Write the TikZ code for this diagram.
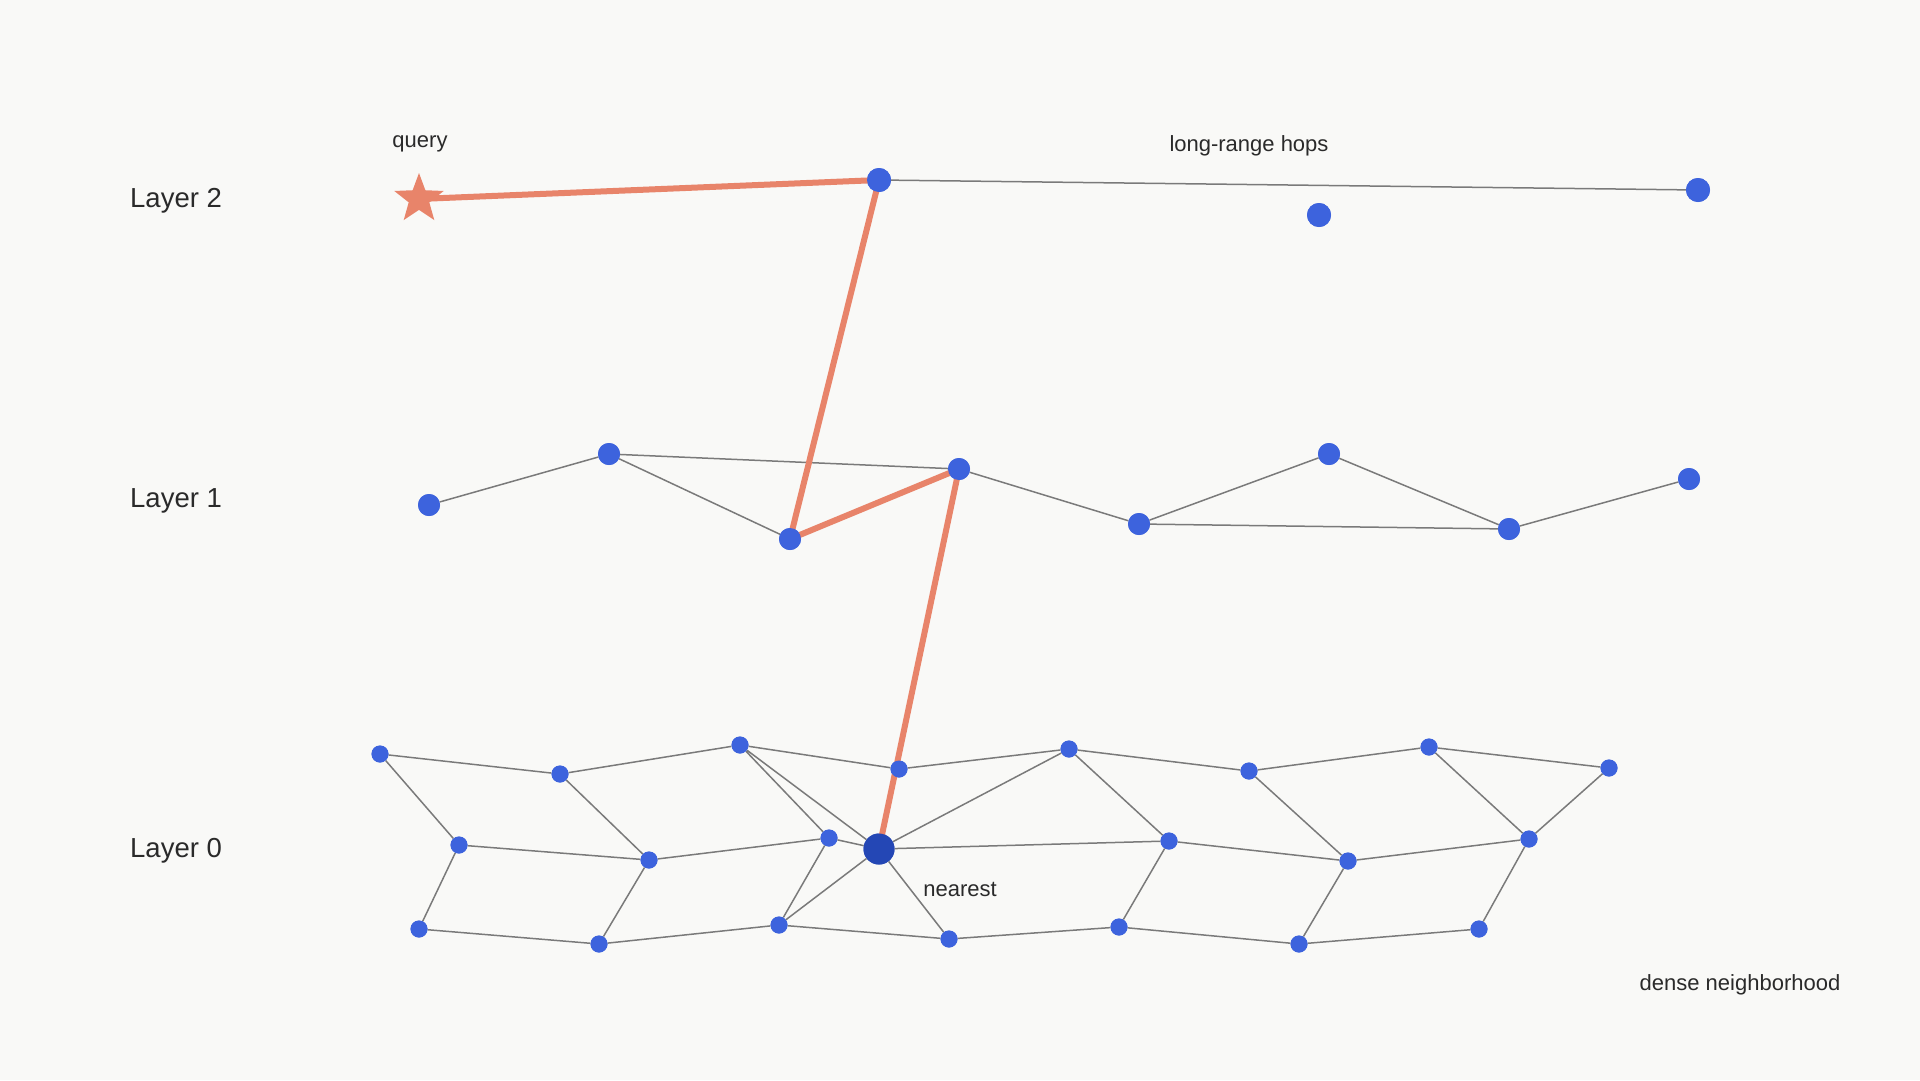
\documentclass[tikz,border=0pt]{standalone}
\usepackage{fontspec}
\setmainfont{Liberation Sans}
\usetikzlibrary{shapes.geometric}
\definecolor{bg}{HTML}{F9F9F7}
\definecolor{nodeblue}{HTML}{3D63DD}
\definecolor{nearblue}{HTML}{2447B5}
\definecolor{hop}{HTML}{E8846A}
\definecolor{edgegray}{HTML}{7A7A7A}
\definecolor{txt}{HTML}{2A2A2A}
\tikzset{
  dot/.style={circle,fill=nodeblue,draw=none,inner sep=0pt,minimum size=#1},
  dot/.default=17pt,
  nearestdot/.style={circle,fill=nearblue,draw=none,inner sep=0pt,minimum size=31pt},
  edge/.style={draw=edgegray,line width=1.5pt},
  path/.style={draw=hop,line width=6pt,line cap=round},
  layerlabel/.style={font=\fontsize{27.5pt}{32pt}\selectfont,text=txt,anchor=west,inner sep=0pt},
  smalllabel/.style={font=\fontsize{22pt}{26pt}\selectfont,text=txt,inner sep=0pt},
  querystar/.style={star,star points=5,star point ratio=2.4,fill=hop,draw=none,minimum size=52pt,inner sep=0pt}
}
\begin{document}
\begin{tikzpicture}[x=1pt,y=-1pt]
\fill[bg] (0,0) rectangle (1920,1080);
\useasboundingbox (0,0) rectangle (1920,1080);

% labels
\node[layerlabel] (lab2) at (130,201) {Layer 2};
\node[layerlabel] (lab1) at (130,501) {Layer 1};
\node[layerlabel] (lab0) at (130,851) {Layer 0};
\node[smalllabel] (lq) at (420,144) {query};
\node[smalllabel] (llr) at (1249,146) {long-range hops};
\node[smalllabel] (lnear) at (960,889) {nearest};
\node[smalllabel] (ldense) at (1740,985) {dense neighborhood};

% layer 2
\coordinate (q) at (419,199);
\node[dot=24pt] (A2) at (879,180) {};
\node[dot=24pt] (B2) at (1319,215) {};
\node[dot=24pt] (C2) at (1698,190) {};

% layer 1
\node[dot=22pt] (a1) at (429,505) {};
\node[dot=22pt] (b1) at (609,454) {};
\node[dot=22pt] (c1) at (790,539) {};
\node[dot=22pt] (d1) at (959,469) {};
\node[dot=22pt] (e1) at (1139,524) {};
\node[dot=22pt] (f1) at (1329,454) {};
\node[dot=22pt] (g1) at (1509,529) {};
\node[dot=22pt] (h1) at (1689,479) {};

% layer 0
\node[dot] (t1) at (380,754) {};
\node[dot] (t2) at (560,774) {};
\node[dot] (t3) at (740,745) {};
\node[dot] (t4) at (899,769) {};
\node[dot] (t5) at (1069,749) {};
\node[dot] (t6) at (1249,771) {};
\node[dot] (t7) at (1429,747) {};
\node[dot] (t8) at (1609,768) {};
\node[dot] (m1) at (459,845) {};
\node[dot] (m2) at (649,860) {};
\node[dot] (m3) at (829,838) {};
\node[dot] (m5) at (1169,841) {};
\node[dot] (m6) at (1348,861) {};
\node[dot] (m7) at (1529,839) {};
\node[dot] (bb1) at (419,929) {};
\node[dot] (bb2) at (599,944) {};
\node[dot] (bb3) at (779,925) {};
\node[dot] (bb4) at (949,939) {};
\node[dot] (bb5) at (1119,927) {};
\node[dot] (bb6) at (1299,944) {};
\node[dot] (bb7) at (1479,929) {};
\node[nearestdot] (N) at (879,849) {};

% gray edges
\path[edge] (A2) -- (C2);
\path[edge] (a1) -- (b1) (b1) -- (c1) (b1) -- (d1) (d1) -- (e1) (e1) -- (f1) (e1) -- (g1) (f1) -- (g1) (g1) -- (h1);
\path[edge] (t1) -- (t2) (t2) -- (t3) (t3) -- (t4) (t4) -- (t5) (t5) -- (t6) (t6) -- (t7) (t7) -- (t8);
\path[edge] (t1) -- (m1) (t2) -- (m2) (t3) -- (m3) (t3) -- (N) (N) -- (t5) (t5) -- (m5) (t6) -- (m6) (t7) -- (m7) (t8) -- (m7);
\path[edge] (m1) -- (m2) (m2) -- (m3) (m3) -- (N) (N) -- (m5) (m5) -- (m6) (m6) -- (m7);
\path[edge] (m1) -- (bb1) (m2) -- (bb2) (m3) -- (bb3) (N) -- (bb3) (N) -- (bb4) (m5) -- (bb5) (m6) -- (bb6) (m7) -- (bb7);
\path[edge] (bb1) -- (bb2) (bb2) -- (bb3) (bb3) -- (bb4) (bb4) -- (bb5) (bb5) -- (bb6) (bb6) -- (bb7);
% search path
\path[path] (q) -- (A2.center);
\path[path] (A2.center) -- (c1.center);
\path[path] (c1.center) -- (d1.center);
\path[path] (d1.center) -- (N.center);

% redraw nodes on top
\foreach \n in {A2,B2,C2}{\fill[nodeblue] (\n) circle (12pt);}
\foreach \n in {a1,b1,c1,d1,e1,f1,g1,h1}{\fill[nodeblue] (\n) circle (11pt);}
\foreach \n in {t1,t2,t3,t4,t5,t6,t7,t8,m1,m2,m3,m5,m6,m7,bb1,bb2,bb3,bb4,bb5,bb6,bb7}{\fill[nodeblue] (\n) circle (8.5pt);}
\fill[nearblue] (N) circle (15.5pt);
\node[querystar] (Q) at (q) {};
\end{tikzpicture}
\end{document}
